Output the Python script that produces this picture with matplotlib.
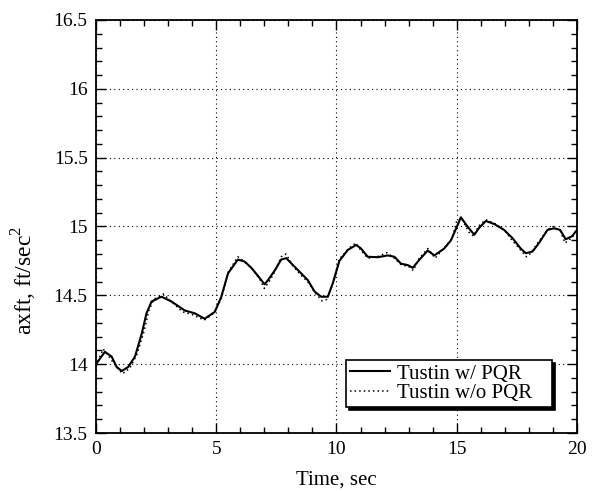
import matplotlib.pyplot as plt
from matplotlib.ticker import MultipleLocator

# values
t_pqr = [0.0, 0.37, 0.65, 0.86, 1.07, 1.34, 1.62, 1.9, 2.1, 2.31, 2.72, 3.14, 3.69,
         4.1, 4.52, 4.94, 5.21, 5.49, 5.9, 6.18, 6.46, 6.74, 7.01, 7.15, 7.43, 7.7,
         7.91, 8.19, 8.53, 8.81, 9.09, 9.36, 9.64, 9.85, 10.12, 10.47, 10.82, 11.02,
         11.3, 11.72, 12.13, 12.41, 12.68, 12.96, 13.17, 13.44, 13.79, 14.07, 14.48,
         14.76, 15.06, 15.17, 15.45, 15.73, 15.93, 16.21, 16.56, 16.97, 17.32, 17.66,
         17.87, 18.15, 18.42, 18.77, 19.05, 19.3, 19.53, 19.8, 20.0]
axft_pqr = [14.0, 14.09, 14.055, 13.98, 13.95, 13.98, 14.055, 14.22, 14.37, 14.455,
            14.49, 14.455, 14.39, 14.37, 14.33, 14.38, 14.49, 14.66, 14.76, 14.745,
            14.70, 14.64, 14.58, 14.61, 14.68, 14.76, 14.77, 14.72, 14.66, 14.61,
            14.527, 14.49, 14.49, 14.59, 14.75, 14.83, 14.866, 14.84, 14.78, 14.777,
            14.79, 14.78, 14.73, 14.72, 14.70, 14.757, 14.825, 14.79, 14.84, 14.90,
            15.02, 15.067, 14.999, 14.94, 14.99, 15.04, 15.018, 14.975, 14.915, 14.84,
            14.806, 14.818, 14.88, 14.975, 14.987, 14.975, 14.907, 14.93, 14.975]

t_nopqr = [0.0, 0.3, 0.6, 0.9, 1.1, 1.4, 1.7, 2.0, 2.2, 2.4, 2.8, 3.1, 3.6, 4.0,
           4.5, 4.9, 5.2, 5.5, 5.9, 6.2, 6.5, 6.8, 7.0, 7.2, 7.4, 7.7, 7.9, 8.2, 8.5,
           8.8, 9.1, 9.4, 9.6, 9.9, 10.1, 10.5, 10.8, 11.0, 11.3, 11.7, 12.1, 12.4,
           12.7, 13.0, 13.2, 13.4, 13.8, 14.1, 14.5, 14.8, 15.0, 15.2, 15.5, 15.7,
           15.9, 16.2, 16.6, 17.0, 17.3, 17.7, 17.9, 18.1, 18.4, 18.8, 19.0, 19.3,
           19.5, 19.8, 20.0]
axft_nopqr = [13.99, 14.11, 14.04, 13.97, 13.93, 13.97, 14.07, 14.24, 14.39, 14.47,
              14.51, 14.46, 14.38, 14.36, 14.32, 14.37, 14.47, 14.67, 14.78, 14.74,
              14.69, 14.62, 14.55, 14.60, 14.66, 14.78, 14.80, 14.71, 14.65, 14.60,
              14.52, 14.46, 14.47, 14.61, 14.76, 14.84, 14.88, 14.83, 14.77, 14.78,
              14.81, 14.77, 14.72, 14.71, 14.68, 14.76, 14.84, 14.77, 14.85, 14.91,
              15.04, 15.06, 14.96, 14.93, 15.0, 15.05, 15.02, 14.97, 14.90, 14.82,
              14.78, 14.81, 14.89, 14.98, 15.0, 14.97, 14.88, 14.92, 14.98]

plt.rcParams['font.family'] = ['Liberation Serif', 'DejaVu Serif']
plt.rcParams['mathtext.fontset'] = 'custom'
plt.rcParams['mathtext.rm'] = 'Liberation Serif'

fig = plt.figure(figsize=(5.97, 4.91), dpi=100)
ax = fig.add_axes([0.1608, 0.1181, 0.8057, 0.8412])

ax.plot(t_pqr, axft_pqr, color='black', lw=1.5, label='Tustin w/ PQR')
ax.plot(t_nopqr, axft_nopqr, color='black', lw=1.1, ls=(0, (1, 2)), label='Tustin w/o PQR')

ax.set_xlim(0, 20)
ax.set_ylim(13.5, 16.5)
ax.xaxis.set_major_locator(MultipleLocator(5))
ax.xaxis.set_minor_locator(MultipleLocator(1))
ax.yaxis.set_minor_locator(MultipleLocator(0.1))
ax.set_yticks([13.5, 14, 14.5, 15, 15.5, 16, 16.5])
ax.set_yticklabels(['13.5', '14', '14.5', '15', '15.5', '16', '16.5'])
ax.tick_params(which='both', direction='in', top=True, right=True, labelsize=14, width=1)
ax.tick_params(which='major', length=7, pad=6)
ax.tick_params(which='minor', length=4)
for s in ax.spines.values():
    s.set_linewidth(1.3)

ax.grid(True, which='major', color='black', ls=(0, (1, 3)), lw=0.8)

ax.set_xlabel('Time, sec', fontsize=15, labelpad=9)
ax.set_ylabel(r'axft, ft/sec$^{\mathrm{2}}$', fontsize=17)
ax.yaxis.set_label_coords(-0.118, 0.37)

leg = ax.legend(loc='upper left', bbox_to_anchor=(0.52, 0.063, 0.428, 0.114), mode='expand',
                fontsize=15, fancybox=False, edgecolor='black', framealpha=1,
                shadow={'color': 'black', 'alpha': 1.0}, borderpad=0.2,
                handlelength=1.9, handletextpad=0.35, labelspacing=0.0, borderaxespad=0)
leg.get_frame().set_linewidth(1.2)

fig.savefig('out.png', dpi=100)
